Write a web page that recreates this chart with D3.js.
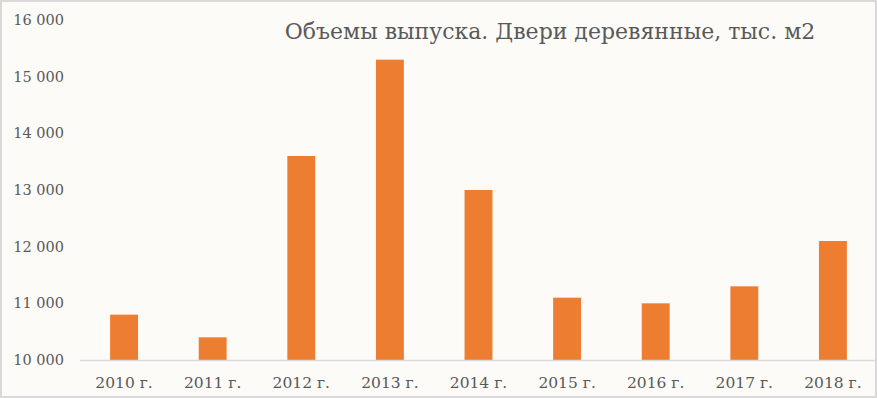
<!DOCTYPE html>
<html>
<head>
<meta charset="utf-8">
<script src="https://cdn.jsdelivr.net/npm/d3@7"></script>
<style>
  body { margin: 0; background: #fff; }
  svg { display: block; }
</style>
</head>
<body>
<div id="chart"></div>
<script>
    let years = ["2010 г.", "2011 г.", "2012 г.", "2013 г.", "2014 г.", "2015 г.", "2016 г.", "2017 г.", "2018 г."];
    let volumes = [10800, 10400, 13600, 15300, 13000, 11100, 11000, 11300, 12100];
    let yTicks = [10000, 11000, 12000, 13000, 14000, 15000, 16000];
    let title = "Объемы выпуска. Двери деревянные, тыс. м2";

    let data = years.map((y, i) => ({ year: y, value: volumes[i] }));

    let W = 877, H = 398;
    let margin = { top: 20, right: 0, bottom: 38, left: 80 },
        width = W - margin.left - margin.right,
        height = H - margin.top - margin.bottom;

    let root = d3.select("#chart").append("svg")
        .attr("width", W)
        .attr("height", H);

    root.append("rect")
        .attr("x", 1).attr("y", 1)
        .attr("width", W - 2).attr("height", H - 2)
        .attr("fill", "#fcfbf7")
        .attr("stroke", "#d9d9d9")
        .attr("stroke-width", 2);

    let svg = root.append("g")
        .attr("transform", `translate(${margin.left},${margin.top})`);

    let x = d3.scaleBand()
        .domain(years)
        .range([0, width])
        .paddingInner(0.685)
        .paddingOuter(0.34);

    let y = d3.scaleLinear()
        .domain([10000, 16000])
        .range([height, 0]);

    let fmt = d => d3.format(",")(d).replace(",", " ");
    let font = "'DejaVu Serif', Georgia, serif";

    // y labels
    svg.append("g")
        .selectAll("text")
        .data(yTicks)
        .enter()
        .append("text")
        .attr("x", -16)
        .attr("y", d => y(d))
        .attr("dy", "0.35em")
        .attr("text-anchor", "end")
        .style("font-family", font)
        .style("font-size", "14.5px")
        .style("fill", "#595959")
        .text(fmt);

    svg.selectAll(".bar")
        .data(data)
        .enter()
        .append("rect")
        .attr("class", "bar")
        .attr("x", d => x(d.year))
        .attr("y", d => y(d.value))
        .attr("width", x.bandwidth())
        .attr("height", d => height - y(d.value))
        .attr("fill", "#ed7d31");

    // baseline
    svg.append("line")
        .attr("x1", 0).attr("x2", width)
        .attr("y1", height + 0.5).attr("y2", height + 0.5)
        .attr("stroke", "#d9d9d9")
        .attr("stroke-width", 1.5);

    // x labels
    svg.append("g")
        .selectAll("text")
        .data(years)
        .enter()
        .append("text")
        .attr("x", d => x(d) + x.bandwidth() / 2)
        .attr("y", height + 28)
        .attr("text-anchor", "middle")
        .style("font-family", font)
        .style("font-size", "15.5px")
        .style("fill", "#595959")
        .text(d => d);

    root.append("text")
        .attr("x", 550)
        .attr("y", 39)
        .attr("text-anchor", "middle")
        .style("font-family", font)
        .style("font-size", "22px")
        .style("fill", "#595959")
        .text(title);
</script>
</body>
</html>
